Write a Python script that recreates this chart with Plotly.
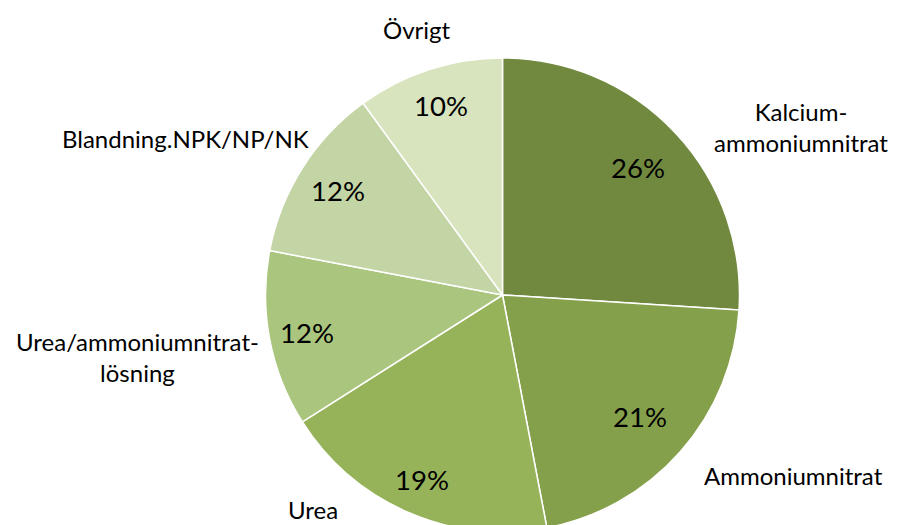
import math
import plotly.graph_objects as go

categories = ["Kalcium-<br>ammoniumnitrat", "Ammoniumnitrat", "Urea",
              "Urea/ammoniumnitrat-<br>lösning", "Blandning.NPK/NP/NK", "Övrigt"]
shares = [26, 21, 19, 12, 12, 10]
colors = ["#71893F", "#85A04B", "#97B35A", "#AAC57D", "#C3D4A5", "#D7E4BE"]

# the page body adds an 8px margin, so figure coordinates are shifted by it
BODY = 8
W, H = 901, 525
CX, CY, R = 502.5 - BODY, 295 - BODY, 237  # pie centre / radius in figure pixels

# outside category-name offsets (pixels, relative to pie centre)
label_offsets = [(298, -168), (290.5, 180), (-189.5, 214), (-365.5, 62), (-317.5, -157), (-85.5, -265)]
# radial position of the percentage text, as a fraction of the radius
pct_radius = [0.785, 0.775, 0.85, 0.84, 0.82, 0.84]

fig = go.Figure()
fig.add_trace(go.Pie(
    labels=categories, values=shares, sort=False, direction="clockwise", rotation=0,
    marker=dict(colors=colors, line=dict(color="white", width=1.5)),
    textinfo="none", hoverinfo="label+percent", showlegend=False,
    domain=dict(x=[(CX - R) / W, (CX + R) / W], y=[max(0, 1 - (CY + R) / H), 1 - (CY - R) / H]),
))

total = sum(shares)
cum = 0
annotations = []
for cat, v, (ox, oy), f in zip(categories, shares, label_offsets, pct_radius):
    mid = (cum + v / 2) / total * 2 * math.pi
    cum += v
    rr = f * R
    px = CX + rr * math.sin(mid)
    py = CY - rr * math.cos(mid)
    annotations.append(dict(x=px / W, y=1 - py / H, xref="paper", yref="paper",
                            xanchor="center", yanchor="middle",
                            text=f"{round(v / total * 100)}%", showarrow=False,
                            font=dict(size=27.5, color="black", family="Lato")))
    annotations.append(dict(x=(CX + ox) / W, y=1 - (CY + oy) / H, xref="paper", yref="paper",
                            xanchor="center", yanchor="middle",
                            text=cat, showarrow=False,
                            font=dict(size=24, color="black", family="Lato")))

fig.update_layout(width=W, height=H, margin=dict(l=0, r=0, t=0, b=0),
                  paper_bgcolor="white", plot_bgcolor="white", annotations=annotations)
fig.write_html("out.html")
